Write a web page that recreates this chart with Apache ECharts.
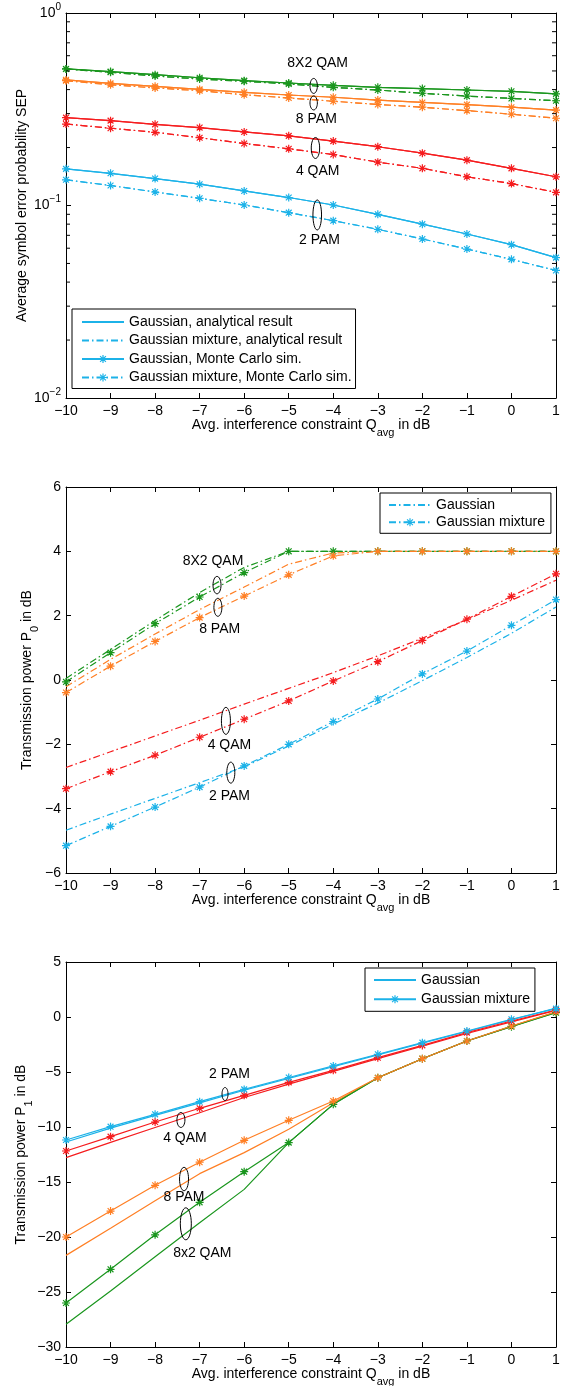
<!DOCTYPE html>
<html><head><meta charset="utf-8">
<script src="https://cdn.jsdelivr.net/npm/echarts@6/dist/echarts.min.js"></script>
<style>html,body{margin:0;padding:0;background:#fff}#c{width:571px;height:1386px}</style>
</head><body><div id="c"></div>
<script>
// ---------- data ----------
const xValues = [-10, -9, -8, -7, -6, -5, -4, -3, -2, -1, 0, 1];
const xTickLabels = ['-10', '-9', '-8', '-7', '-6', '-5', '-4', '-3', '-2', '-1', '0', '1'];

// Panel 1: average symbol error probability (log scale)
const sep2PamGauss  = [0.155, 0.147, 0.138, 0.129, 0.119, 0.110, 0.1006, 0.090, 0.080, 0.0711, 0.0626, 0.0536];
const sep2PamMix    = [0.136, 0.127, 0.1175, 0.109, 0.1006, 0.0918, 0.0834, 0.0752, 0.0670, 0.0594, 0.0525, 0.0460];
const sep4QamGauss  = [0.286, 0.276, 0.264, 0.254, 0.241, 0.230, 0.216, 0.202, 0.187, 0.172, 0.156, 0.141];
const sep4QamMix    = [0.265, 0.252, 0.240, 0.225, 0.210, 0.197, 0.184, 0.168, 0.156, 0.141, 0.130, 0.117];
const sep8PamGauss  = [0.449, 0.431, 0.416, 0.401, 0.387, 0.375, 0.365, 0.353, 0.343, 0.334, 0.324, 0.313];
const sep8PamMix    = [0.445, 0.424, 0.408, 0.395, 0.376, 0.362, 0.348, 0.335, 0.324, 0.311, 0.298, 0.284];
const sep16QamGauss = [0.512, 0.496, 0.478, 0.461, 0.445, 0.433, 0.421, 0.411, 0.405, 0.398, 0.392, 0.380];
const sep16QamMix   = [0.512, 0.492, 0.471, 0.454, 0.442, 0.428, 0.411, 0.398, 0.383, 0.370, 0.360, 0.350];

// Panel 2: transmission power P0 in dB
const p0_2PamGauss  = [-4.67, -4.17, -3.68, -3.19, -2.70, -2.05, -1.37, -0.72, -0.02, 0.70, 1.45, 2.27];
const p0_2PamMix    = [-5.15, -4.55, -3.95, -3.33, -2.67, -2.00, -1.29, -0.59, 0.19, 0.90, 1.70, 2.50];
const p0_4QamGauss  = [-2.72, -2.23, -1.74, -1.25, -0.75, -0.26, 0.23, 0.75, 1.30, 1.88, 2.48, 3.10];
const p0_4QamMix    = [-3.38, -2.85, -2.34, -1.78, -1.22, -0.65, -0.03, 0.57, 1.23, 1.89, 2.60, 3.30];
const p0_8PamGauss  = [-0.21, 0.64, 1.43, 2.19, 2.89, 3.60, 3.95, 4, 4, 4, 4, 4];
const p0_8PamMix    = [-0.39, 0.43, 1.20, 1.94, 2.61, 3.27, 3.86, 4, 4, 4, 4, 4];
const p0_16QamGauss = [0.05, 0.95, 1.85, 2.72, 3.50, 4, 4, 4, 4, 4, 4, 4];
const p0_16QamMix   = [-0.06, 0.85, 1.75, 2.58, 3.34, 4, 4, 4, 4, 4, 4, 4];

// Panel 3: transmission power P1 in dB
const p1_2PamGauss  = [-11.36, -10.1, -8.95, -7.8, -6.66, -5.58, -4.52, -3.45, -2.38, -1.32, -0.25, 0.80];
const p1_2PamMix    = [-11.18, -9.97, -8.85, -7.7, -6.58, -5.50, -4.45, -3.39, -2.33, -1.27, -0.21, 0.76];
const p1_4QamGauss  = [-12.79, -11.4, -10.05, -8.7, -7.32, -6.10, -4.95, -3.78, -2.65, -1.50, -0.44, 0.60];
const p1_4QamMix    = [-12.18, -10.88, -9.55, -8.3, -7.12, -5.94, -4.85, -3.70, -2.58, -1.42, -0.36, 0.64];
const p1_8PamGauss  = [-21.67, -19.2, -16.7, -14.24, -12.33, -10.2, -7.8, -5.52, -3.79, -2.18, -0.85, 0.45];
const p1_8PamMix    = [-20.0, -17.64, -15.3, -13.2, -11.21, -9.39, -7.64, -5.52, -3.79, -2.18, -0.82, 0.48];
const p1_16QamGauss = [-27.94, -24.9, -21.8, -18.7, -15.67, -11.42, -7.94, -5.52, -3.79, -2.18, -0.85, 0.42];
const p1_16QamMix   = [-26.0, -22.94, -19.8, -16.85, -14.06, -11.42, -7.94, -5.52, -3.79, -2.18, -0.88, 0.39];

const logMinorValues = [0.02, 0.03, 0.04, 0.05, 0.06, 0.07, 0.08, 0.09, 0.2, 0.3, 0.4, 0.5, 0.6, 0.7, 0.8, 0.9];

// annotations [panel, kind, text, x, y, rx, ry]
const annotations = [
  [0, 'text', '8X2 QAM', -4.35, 0.55], [0, 'ell', '', -4.44, 0.418, 3.7, 7.5], [0, 'ell', '', -4.44, 0.341, 3.7, 7],
  [0, 'text', '8 PAM', -4.38, 0.281], [0, 'ell', '', -4.40, 0.199, 4.2, 10.5], [0, 'text', '4 QAM', -4.35, 0.151],
  [0, 'ell', '', -4.36, 0.0893, 4.3, 15], [0, 'text', '2 PAM', -4.31, 0.0662],
  [1, 'text', '8X2 QAM', -6.70, 3.69], [1, 'ell', '', -6.61, 2.95, 4, 8.7], [1, 'ell', '', -6.59, 2.26, 4, 9],
  [1, 'text', '8 PAM', -6.55, 1.58], [1, 'ell', '', -6.41, -1.27, 4.5, 13.5], [1, 'text', '4 QAM', -6.33, -2.02],
  [1, 'ell', '', -6.30, -2.88, 4, 10.5], [1, 'text', '2 PAM', -6.33, -3.6],
  [2, 'text', '2 PAM', -6.33, -5.18], [2, 'ell', '', -6.43, -7.0, 3, 6.5], [2, 'ell', '', -7.42, -9.36, 4, 7.5],
  [2, 'text', '4 QAM', -7.33, -11.0], [2, 'ell', '', -7.35, -14.73, 4.5, 11.7], [2, 'text', '8 PAM', -7.35, -16.36],
  [2, 'ell', '', -7.31, -18.8, 5.5, 16], [2, 'text', '8x2 QAM', -6.94, -21.5]
];

// ---------- style ----------
const FONT = 'Liberation Sans, Arial, Helvetica, sans-serif';
const C_CYAN = '#1cb2e8', C_RED = '#f51c1e', C_ORANGE = '#ff7f24', C_GREEN = '#1a961e';
const DASHDOT = [7, 3, 1.5, 3];
const STAR = 'path://M0,-4L0,4M-4,0L4,0M-2.9,-2.9L2.9,2.9M-2.9,2.9L2.9,-2.9';
const MINUS = '\u2212';

function pts(arr) { return xValues.map((x, i) => [x, arr[i]]); }
function mk(name, arr, color, dash, withSym, g, z) {
  return {
    type: 'line', name: name, data: pts(arr), xAxisIndex: 2 * g, yAxisIndex: 2 * g,
    lineStyle: { color: color, width: 1.2, type: dash ? DASHDOT : 'solid' },
    itemStyle: { color: color, borderColor: color, borderWidth: 1.2 },
    symbol: withSym ? STAR : 'none', symbolSize: 8, showSymbol: withSym, showAllSymbol: true,
    silent: true, animation: false, z: z || 2, emphasis: { disabled: true }
  };
}

const gridDefs = [
  { left: 66, width: 490, top: 13, height: 385, outerBoundsMode: 'none', containLabel: false },
  { left: 66, width: 490, top: 487, height: 386, outerBoundsMode: 'none', containLabel: false },
  { left: 66, width: 490, top: 962, height: 385, outerBoundsMode: 'none', containLabel: false }
];
const baseAxis = {
  axisLine: { show: true, onZero: false, lineStyle: { color: '#000', width: 1 } },
  axisTick: { show: true, inside: true, length: 5, lineStyle: { color: '#000', width: 1 } },
  splitLine: { show: false },
  axisLabel: { color: '#000', fontSize: 14, fontFamily: FONT, lineHeight: 14 }
};
const xName = '{n|Avg. interference constraint Q}{s|avg}{n| in dB}';
const nameRich = {
  n: { fontSize: 14, lineHeight: 14, fontFamily: FONT, color: '#000', verticalAlign: 'top' },
  s: { fontSize: 11, fontFamily: FONT, color: '#000', padding: [9, 0, 0, 0], verticalAlign: 'top' }
};
const xAxes = [], yAxes = [];
for (let g = 0; g < 3; g++) {
  xAxes.push(Object.assign({}, baseAxis, {
    gridIndex: g, type: 'value', min: -10, max: 1, interval: 1, position: 'bottom',
    axisLabel: Object.assign({}, baseAxis.axisLabel, { margin: 6, formatter: v => xTickLabels[xValues.indexOf(v)].replace('-', MINUS) }),
    name: xName, nameLocation: 'middle', nameGap: 20, nameMoveOverlap: false,
    nameTextStyle: { fontSize: 14, fontFamily: FONT, color: '#000', rich: nameRich }
  }));
  xAxes.push(Object.assign({}, baseAxis, {
    gridIndex: g, type: 'value', min: -10, max: 1, interval: 1, position: 'top',
    axisLabel: { show: false }
  }));
}
const yDefs = [
  { type: 'log', logBase: 10, min: 0.01, max: 1, name: 'Average symbol error probability SEP', gap: 37 },
  { type: 'value', min: -6, max: 6, interval: 2, name: '{n|Transmission power P}{s|0}{n| in dB}', gap: 26 },
  { type: 'value', min: -30, max: 5, interval: 5, name: '{n|Transmission power P}{s|1}{n| in dB}', gap: 32 }
];
const supRich = {
  b: { fontSize: 14, lineHeight: 14, fontFamily: FONT, color: '#000', verticalAlign: 'middle' },
  e: { fontSize: 10, fontFamily: FONT, color: '#000', padding: [0, 0, 12, 0], verticalAlign: 'top' }
};
yDefs.forEach((d, g) => {
  const lab = Object.assign({}, baseAxis.axisLabel, { margin: 5 });
  if (d.type === 'log') {
    lab.formatter = v => { const e = Math.round(Math.log10(v)); return '{b|10}{e|' + (e < 0 ? MINUS + (-e) : e) + '}'; };
    lab.rich = supRich;
    delete lab.lineHeight;
  } else {
    lab.formatter = v => String(v).replace('-', MINUS);
  }
  const ax = Object.assign({}, baseAxis, {
    gridIndex: g, type: d.type, min: d.min, max: d.max, position: 'left', axisLabel: lab,
    name: d.name, nameLocation: 'middle', nameGap: d.gap, nameMoveOverlap: false,
    nameTextStyle: { fontSize: 14, fontFamily: FONT, color: '#000', rich: nameRich }
  });
  if (d.interval) ax.interval = d.interval;
  if (d.logBase) ax.logBase = d.logBase;
  yAxes.push(ax);
  const ax2 = Object.assign({}, baseAxis, {
    gridIndex: g, type: d.type, min: d.min, max: d.max, position: 'right', axisLabel: { show: false }
  });
  if (d.interval) ax2.interval = d.interval;
  if (d.logBase) ax2.logBase = d.logBase;
  yAxes.push(ax2);
});

// ---------- series ----------
const series = [];
const L1 = ['Gaussian, analytical result', 'Gaussian mixture, analytical result', 'Gaussian, Monte Carlo sim.', 'Gaussian mixture, Monte Carlo sim.'];
[[sep16QamGauss, sep16QamMix, C_GREEN, '8X2'], [sep8PamGauss, sep8PamMix, C_ORANGE, '8PAM'],
 [sep4QamGauss, sep4QamMix, C_RED, '4QAM'], [sep2PamGauss, sep2PamMix, C_CYAN, '2PAM']].forEach(([gA, mA, c, k]) => {
  const cy = c === C_CYAN;
  series.push(mk(cy ? L1[0] : k + ' ga', gA, c, false, false, 0));
  series.push(mk(cy ? L1[1] : k + ' ma', mA, c, true, false, 0));
  series.push(mk(cy ? L1[2] : k + ' gm', gA, c, false, true, 0, 3));
  series.push(mk(cy ? L1[3] : k + ' mm', mA, c, true, true, 0, 3));
});
const L2 = ['Gaussian', 'Gaussian mixture'];
[[p0_16QamGauss, p0_16QamMix, C_GREEN, '8X2'], [p0_8PamGauss, p0_8PamMix, C_ORANGE, '8PAM'],
 [p0_4QamGauss, p0_4QamMix, C_RED, '4QAM'], [p0_2PamGauss, p0_2PamMix, C_CYAN, '2PAM']].forEach(([gA, mA, c, k]) => {
  const cy = c === C_CYAN;
  series.push(mk(cy ? L2[0] : k + ' p0g', gA, c, true, false, 1));
  series.push(mk(cy ? L2[1] : k + ' p0m', mA, c, true, true, 1, 3));
});
const L3 = ['Gaussian ', 'Gaussian mixture '];
[[p1_16QamGauss, p1_16QamMix, C_GREEN, '8X2'], [p1_8PamGauss, p1_8PamMix, C_ORANGE, '8PAM'],
 [p1_4QamGauss, p1_4QamMix, C_RED, '4QAM'], [p1_2PamGauss, p1_2PamMix, C_CYAN, '2PAM']].forEach(([gA, mA, c, k]) => {
  const cy = c === C_CYAN;
  series.push(mk(cy ? L3[0] : k + ' p1g', gA, c, false, false, 2));
  series.push(mk(cy ? L3[1] : k + ' p1m', mA, c, false, true, 2, 3));
});

const noSym = n => ({ name: n, itemStyle: { opacity: 0 } });
const withSym = n => ({ name: n, itemStyle: { color: C_CYAN, borderColor: C_CYAN, borderWidth: 1.2 } });
const legendBase = {
  orient: 'vertical', itemWidth: 42, itemHeight: 10, selectedMode: false,
  borderColor: '#000', borderWidth: 1, backgroundColor: '#fff', borderRadius: 0,
  textStyle: { fontSize: 14, fontFamily: FONT, color: '#000', lineHeight: 14 },
  formatter: n => n.trim(), z: 10
};
const legends = [
  Object.assign({}, legendBase, { data: [noSym(L1[0]), noSym(L1[1]), withSym(L1[2]), withSym(L1[3])],
    left: 72, top: 309, itemGap: 4.5, padding: [6, 4, 4, 9] }),
  Object.assign({}, legendBase, { data: [noSym(L2[0]), withSym(L2[1])], left: 380, top: 493, itemGap: 3.3, padding: [5, 6, 4, 8] }),
  Object.assign({}, legendBase, { data: [noSym(L3[0]), withSym(L3[1])], left: 365, top: 968, itemGap: 5.3, padding: [5, 5, 5, 8] })
];

const option = {
  animation: false,
  backgroundColor: '#fff',
  textStyle: { fontFamily: FONT },
  grid: gridDefs,
  xAxis: xAxes,
  yAxis: yAxes,
  legend: legends,
  series: series
};

const chart = echarts.init(document.getElementById('c'), null, { renderer: 'canvas' });
chart.setOption(option);

// minor ticks for the log axis + annotations
const gfx = [];
const xl = chart.convertToPixel({ xAxisIndex: 0 }, -10);
const xr = chart.convertToPixel({ xAxisIndex: 0 }, 1);
logMinorValues.forEach(v => {
  const y = chart.convertToPixel({ yAxisIndex: 0 }, v);
  gfx.push({ type: 'line', shape: { x1: xl, y1: y, x2: xl + 4, y2: y }, style: { stroke: '#000', lineWidth: 1 }, silent: true, z: 5 });
  gfx.push({ type: 'line', shape: { x1: xr - 4, y1: y, x2: xr, y2: y }, style: { stroke: '#000', lineWidth: 1 }, silent: true, z: 5 });
});
annotations.forEach(a => {
  const p = chart.convertToPixel({ xAxisIndex: 2 * a[0], yAxisIndex: 2 * a[0] }, [a[3], a[4]]);
  if (a[1] === 'text') {
    gfx.push({ type: 'text', x: p[0], y: p[1], silent: true, z: 6,
      style: { text: a[2], fill: '#000', font: '14px ' + FONT, align: 'center', verticalAlign: 'middle' } });
  } else {
    gfx.push({ type: 'ellipse', shape: { cx: p[0], cy: p[1], rx: a[5], ry: a[6] }, silent: true, z: 6,
      style: { fill: 'none', stroke: '#000', lineWidth: 1 } });
  }
});
chart.setOption({ graphic: gfx });
</script></body></html>
